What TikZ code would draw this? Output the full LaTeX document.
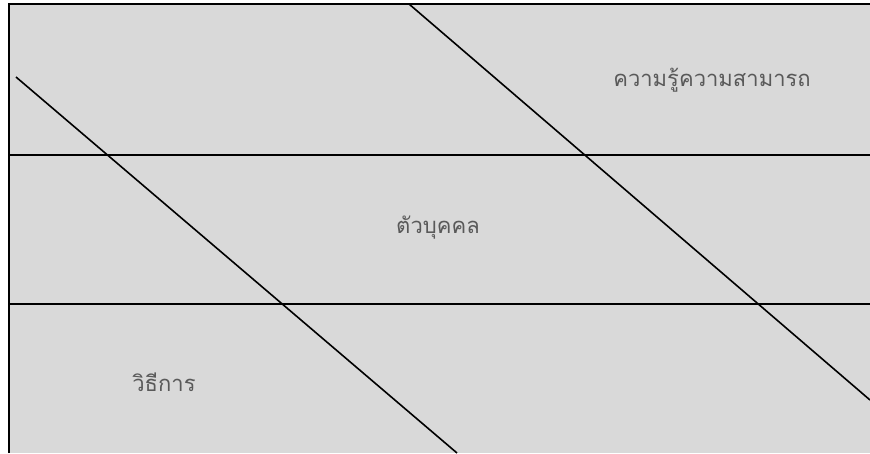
\documentclass[tikz,border=0pt]{standalone}
\usepackage{fontspec}
\newfontfamily\thaifont[Script=Thai]{Loma}
\definecolor{panelgray}{HTML}{D9D9D9}
\definecolor{labelgray}{HTML}{595959}
\tikzset{
  frameline/.style={draw=black, line width=2pt},
  rowline/.style={draw=black, line width=1.9pt},
  diagline/.style={draw=black, line width=1.6pt},
  lbl/.style={font=\thaifont\fontsize{22}{26}\selectfont, text=labelgray, inner sep=0pt, anchor=center}
}
\begin{document}
\begin{tikzpicture}[x=1pt, y=-1pt]
  \useasboundingbox (0,0) rectangle (870,453);
  \fill[panelgray] (9,4) rectangle (870,453);
  % frame (left and top edges)
  \coordinate (fbl) at (9,453);
  \coordinate (ftl) at (9,4);
  \coordinate (ftr) at (870,4);
  \draw[frameline] (fbl) -- (ftl) -- (ftr);
  % row separators
  \coordinate (r1l) at (9,155);
  \coordinate (r1r) at (870,155);
  \coordinate (r2l) at (9,304);
  \coordinate (r2r) at (870,304);
  \draw[rowline] (r1l) -- (r1r);
  \draw[rowline] (r2l) -- (r2r);
  % diagonals
  \coordinate (d1a) at (16,77);
  \coordinate (d1b) at (457,453);
  \coordinate (d2a) at (409,4);
  \coordinate (d2b) at (870,400);
  \draw[diagline] (d1a) -- (d1b);
  \draw[diagline] (d2a) -- (d2b);
  % labels
  \node[lbl] (knowledge) at (712,80) {ความรู้ความสามารถ};
  \node[lbl] (person) at (438,228) {ตัวบุคคล};
  \node[lbl] (method) at (164,382) {วิธีการ};
\end{tikzpicture}
\end{document}
